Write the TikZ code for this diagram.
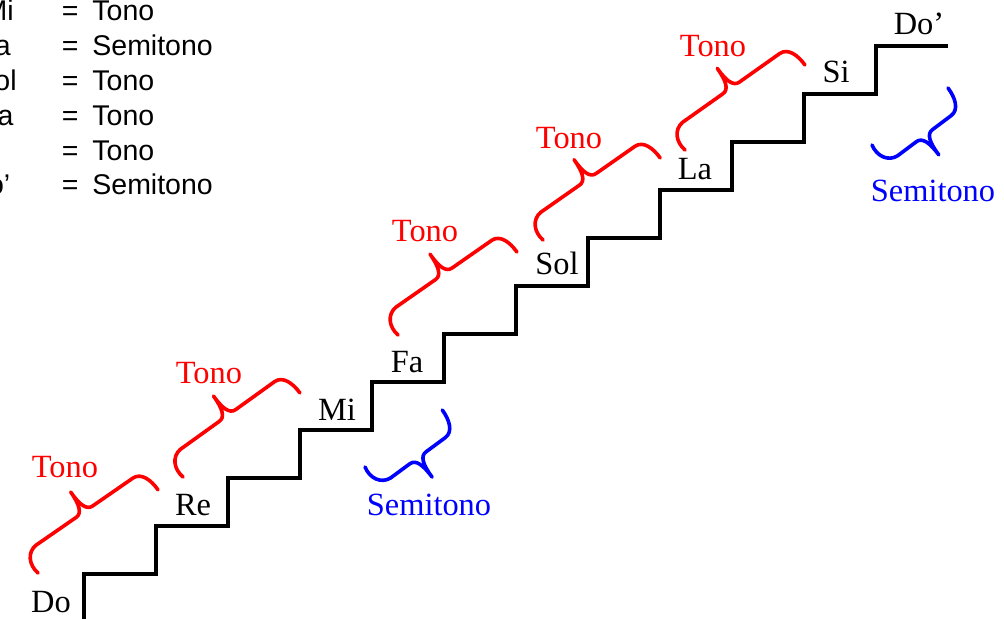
\documentclass[tikz,border=0pt]{standalone}
\usepackage{fontspec}
\setmainfont{Liberation Serif}
\newfontfamily\leyendafont{Liberation Sans}

\begin{document}
\begin{tikzpicture}[x=0.5pt, y=0.5pt,
	treppe/.style={line width=2pt},
	nota/.style={font=\fontsize{16.2}{19}\selectfont, anchor=base, inner sep=0pt},
	tono/.style={nota, red},
	semi/.style={nota, blue},
	leyenda/.style={font=\leyendafont\fontsize{14.25}{17}\selectfont, anchor=base west, inner sep=0pt},
	pics/klammer/.style={code={
		\draw[line width=1.8pt, line cap=round, line join=round]
			(0,0) .. controls (-3,12) and (3,23) .. (14,24) -- (#1/2-10,24)
			.. controls (#1/2-3,24) and (#1/2,32) .. (#1/2,48)
			.. controls (#1/2,32) and (#1/2+3,24) .. (#1/2+10,24) -- (#1-14,24)
			.. controls (#1-4,24) and (#1,12) .. (#1,0);
	}}]
	\useasboundingbox (0,0) rectangle (1004,-619);
	\clip (0,0) rectangle (1004,-619);
	% leyenda
	\node[leyenda, anchor=base east] (l1) at (14,-21) {Mi};
	\node[leyenda, anchor=base east] (l2) at (11,-55.8) {Fa};
	\node[leyenda, anchor=base east] (l3) at (17,-90.6) {Sol};
	\node[leyenda, anchor=base east] (l4) at (14,-125.4) {La};
	\node[leyenda, anchor=base east] (l6) at (10.7,-195) {Do’};
	\foreach \v [count=\i from 0] in {Tono,Semitono,Tono,Tono,Tono,Semitono}{
		\node[leyenda] (eq\i) at (61.5,-21-34.8*\i) {=};
		\node[leyenda] (int\i) at (92,-21-34.8*\i) {\v};
	}
	% escalera
	\draw[treppe] (84,-622) \foreach \k in {1,...,12}{ |- ++(72,48) };
	\node[nota] (do)  at (51,-612)  {Do};
	\node[nota] (re)  at (193,-515) {Re};
	\node[nota] (mi)  at (337,-420) {Mi};
	\node[nota] (fa)  at (407,-372) {Fa};
	\node[nota] (sol) at (557,-275) {Sol};
	\node[nota] (la)  at (695,-180) {La};
	\node[nota] (si)  at (836,-83)  {Si};
	\node[nota] (do2) at (919,-35)  {Do’};
	% llaves
	\pic[red, rotate=34.7] at (38,-573) {klammer=146};
	\pic[red, rotate=35.7] at (183,-477) {klammer=144};
	\pic[red, rotate=34.9] at (398,-335) {klammer=145};
	\pic[red, rotate=35] at (543,-240) {klammer=143};
	\pic[red, rotate=35.3] at (685,-150) {klammer=147};
	\pic[blue, rotate=36.4, yscale=-1] at (365,-467) {klammer=96};
	\pic[blue, rotate=36.9, yscale=-1] at (872,-145) {klammer=95};
	\node[tono] (t1) at (65,-477)  {Tono};
	\node[tono] (t2) at (209,-383) {Tono};
	\node[tono] (t3) at (425,-242) {Tono};
	\node[tono] (t4) at (569,-149) {Tono};
	\node[tono] (t5) at (713,-57)  {Tono};
	\node[semi] (s1) at (429,-515) {Semitono};
	\node[semi] (s2) at (933,-202) {Semitono};
\end{tikzpicture}
\end{document}
